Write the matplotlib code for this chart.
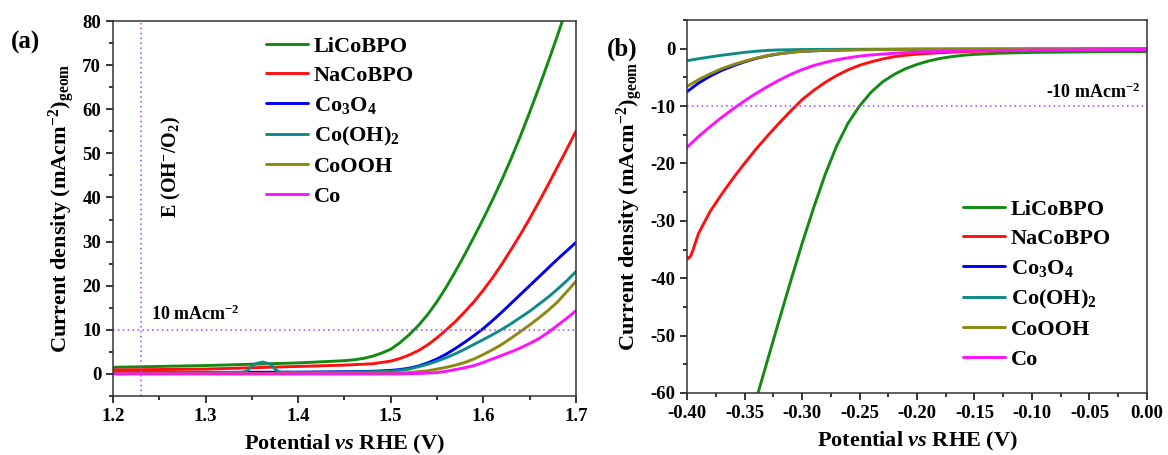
import numpy as np
import matplotlib.pyplot as plt
from matplotlib.ticker import MultipleLocator

plt.rcParams['font.family'] = 'Liberation Serif'
plt.rcParams['font.weight'] = 'bold'
plt.rcParams['axes.labelweight'] = 'bold'
plt.rcParams['axes.unicode_minus'] = False
plt.rcParams['mathtext.fontset'] = 'custom'
plt.rcParams['mathtext.rm'] = 'Liberation Serif:bold'
plt.rcParams['mathtext.it'] = 'Liberation Serif:bold:italic'
plt.rcParams['mathtext.bf'] = 'Liberation Serif:bold'
plt.rcParams['mathtext.default'] = 'rm'

names = ['LiCoBPO', 'NaCoBPO', r'Co$_3$O$_4$', r'Co(OH)$_2$', 'CoOOH', 'Co']
colors = ['#138a13', '#ff1010', '#0000f0', '#0e8a8a', '#8a8a10', '#ff10ff']

xticks_a = [1.2, 1.3, 1.4, 1.5, 1.6, 1.7]
yticks_a = [0, 10, 20, 30, 40, 50, 60, 70, 80]
xticks_b = [-0.40, -0.35, -0.30, -0.25, -0.20, -0.15, -0.10, -0.05, 0.00]
yticks_b = [-60, -50, -40, -30, -20, -10, 0]

# ---- OER (panel a) ----
oer_li_v = [1.20, 1.30, 1.40, 1.45, 1.46, 1.47, 1.48, 1.49, 1.50, 1.51, 1.52, 1.53, 1.54, 1.55,
            1.56, 1.57, 1.58, 1.59, 1.60, 1.61, 1.62, 1.63, 1.64, 1.65, 1.66, 1.67, 1.68, 1.69]
oer_li_j = [1.5, 1.9, 2.5, 3.0, 3.2, 3.5, 4.0, 4.7, 5.6, 7.1, 8.9, 11.0, 13.5, 16.4,
            19.7, 23.3, 27.1, 31.1, 35.2, 39.5, 44.0, 48.8, 53.9, 59.3, 64.9, 70.7, 76.7, 82.9]

oer_na_v = [1.20, 1.30, 1.40, 1.45, 1.48, 1.50, 1.51, 1.52, 1.53, 1.54, 1.55, 1.56, 1.57, 1.58,
            1.59, 1.60, 1.61, 1.62, 1.63, 1.64, 1.65, 1.66, 1.67, 1.68, 1.69, 1.70]
oer_na_j = [0.9, 1.1, 1.7, 2.0, 2.3, 2.9, 3.5, 4.3, 5.3, 6.6, 8.2, 10.0, 11.9, 14.1,
            16.4, 19.0, 21.8, 24.9, 28.2, 31.6, 35.2, 39.0, 42.9, 46.9, 50.9, 55.0]

oer_co3o4_v = [1.20, 1.30, 1.40, 1.45, 1.48, 1.50, 1.51, 1.52, 1.53, 1.54, 1.55, 1.56, 1.57, 1.58,
               1.59, 1.60, 1.61, 1.62, 1.63, 1.64, 1.65, 1.66, 1.67, 1.68, 1.69, 1.70]
oer_co3o4_j = [0.3, 0.35, 0.4, 0.5, 0.6, 0.8, 1.0, 1.3, 1.8, 2.5, 3.4, 4.5, 5.8, 7.2,
               8.7, 10.3, 12.1, 14.0, 16.0, 18.0, 20.0, 22.0, 24.0, 26.0, 27.9, 29.8]

oer_cooh2_v = [1.20, 1.30, 1.34, 1.345, 1.35, 1.355, 1.362, 1.37, 1.375, 1.38, 1.40, 1.45, 1.50,
               1.52, 1.54, 1.55, 1.56, 1.57, 1.58, 1.59, 1.60, 1.61, 1.62, 1.63, 1.64, 1.65,
               1.66, 1.67, 1.68, 1.69, 1.70]
oer_cooh2_j = [0.3, 0.3, 0.35, 0.7, 1.8, 2.4, 2.7, 2.2, 1.1, 0.4, 0.35, 0.4, 0.6,
               1.1, 2.2, 2.9, 3.7, 4.6, 5.6, 6.7, 7.8, 8.9, 10.1, 11.4, 12.8, 14.2,
               15.8, 17.4, 19.2, 21.1, 23.2]

oer_coooh_v = [1.20, 1.40, 1.50, 1.52, 1.54, 1.55, 1.56, 1.57, 1.58, 1.59, 1.60, 1.61, 1.62,
               1.63, 1.64, 1.65, 1.66, 1.67, 1.68, 1.69, 1.70]
oer_coooh_j = [0.1, 0.1, 0.15, 0.3, 0.7, 1.1, 1.5, 2.0, 2.6, 3.4, 4.4, 5.5, 6.7,
               8.1, 9.6, 11.1, 12.7, 14.4, 16.3, 18.6, 21.0]

oer_co_v = [1.20, 1.50, 1.53, 1.55, 1.56, 1.57, 1.58, 1.59, 1.60, 1.61, 1.62, 1.63, 1.64,
            1.65, 1.66, 1.67, 1.68, 1.69, 1.70]
oer_co_j = [0.0, 0.0, 0.1, 0.3, 0.6, 1.0, 1.4, 1.9, 2.6, 3.4, 4.2, 5.0, 5.9,
            6.9, 8.0, 9.4, 11.0, 12.6, 14.3]

# ---- HER (panel b) ----
her_li_v = [-0.34, -0.33, -0.32, -0.31, -0.30, -0.29, -0.28, -0.27, -0.26, -0.25, -0.24, -0.23,
            -0.22, -0.21, -0.20, -0.19, -0.18, -0.17, -0.16, -0.15, -0.13, -0.10, -0.05, 0.0]
her_li_j = [-61.2, -54.3, -47.4, -40.6, -34.0, -27.8, -22.0, -17.0, -13.0, -10.0, -7.6, -5.8,
            -4.5, -3.5, -2.75, -2.15, -1.7, -1.4, -1.15, -1.0, -0.8, -0.65, -0.55, -0.5]

her_na_v = [-0.40, -0.399, -0.397, -0.395, -0.39, -0.38, -0.37, -0.36, -0.35, -0.34, -0.33, -0.32,
            -0.31, -0.30, -0.29, -0.28, -0.27, -0.26, -0.25, -0.24, -0.23, -0.22, -0.21, -0.20,
            -0.18, -0.15, -0.10, -0.05, 0.0]
her_na_j = [-36.3, -36.6, -36.2, -35.2, -32.2, -28.4, -25.4, -22.6, -20.0, -17.5, -15.2, -13.0,
            -10.9, -8.9, -7.3, -5.9, -4.7, -3.7, -2.9, -2.3, -1.8, -1.4, -1.15, -0.95,
            -0.7, -0.45, -0.3, -0.25, -0.2]

her_co3o4_v = [-0.40, -0.39, -0.38, -0.37, -0.36, -0.35, -0.34, -0.33, -0.32, -0.31, -0.30,
               -0.28, -0.25, -0.20, 0.0]
her_co3o4_j = [-7.5, -6.0, -4.8, -3.8, -3.0, -2.3, -1.7, -1.25, -0.9, -0.65, -0.45,
               -0.3, -0.15, -0.1, -0.05]

her_cooh2_v = [-0.40, -0.39, -0.38, -0.37, -0.36, -0.35, -0.34, -0.33, -0.32, -0.30, -0.25, 0.0]
her_cooh2_j = [-2.1, -1.75, -1.45, -1.15, -0.9, -0.65, -0.45, -0.3, -0.22, -0.15, -0.1, -0.05]

her_coooh_v = [-0.40, -0.39, -0.38, -0.37, -0.36, -0.35, -0.34, -0.33, -0.32, -0.31, -0.30,
               -0.28, -0.25, -0.20, 0.0]
her_coooh_j = [-6.6, -5.4, -4.4, -3.5, -2.8, -2.2, -1.65, -1.2, -0.9, -0.65, -0.45,
               -0.3, -0.2, -0.12, -0.1]

her_co_v = [-0.40, -0.39, -0.38, -0.37, -0.36, -0.35, -0.34, -0.33, -0.32, -0.31, -0.30, -0.29,
            -0.28, -0.27, -0.26, -0.25, -0.24, -0.22, -0.20, -0.15, -0.10, 0.0]
her_co_j = [-17.2, -15.3, -13.6, -12.0, -10.5, -9.1, -7.8, -6.6, -5.5, -4.5, -3.65, -2.95,
            -2.4, -1.95, -1.6, -1.3, -1.1, -0.8, -0.6, -0.35, -0.25, -0.15]

oer = [(oer_li_v, oer_li_j), (oer_na_v, oer_na_j), (oer_co3o4_v, oer_co3o4_j),
       (oer_cooh2_v, oer_cooh2_j), (oer_coooh_v, oer_coooh_j), (oer_co_v, oer_co_j)]
her = [(her_li_v, her_li_j), (her_na_v, her_na_j), (her_co3o4_v, her_co3o4_j),
       (her_cooh2_v, her_cooh2_j), (her_coooh_v, her_coooh_j), (her_co_v, her_co_j)]

fig = plt.figure(figsize=(11.68, 4.55), dpi=100)
axa = fig.add_axes([0.0967, 0.1297, 0.3964, 0.8241])
axb = fig.add_axes([0.5882, 0.1363, 0.3938, 0.8198])

lw = 2.1
guide = dict(color='#a040ff', linestyle=(0, (1, 2.2)), linewidth=1.1)
tickfont = dict(fontsize=13.5, fontweight='bold')

for (v, j), c, n in zip(oer, colors, names):
    axa.plot(v, j, color=c, lw=lw, label=n, solid_capstyle='round')
axa.axhline(10, **guide)
axa.axvline(1.23, **guide)
axa.text(1.241, 12.2, r'10 mAcm$^{-2}$', fontsize=13)
axa.text(1.263, 47, r'E (OH$^{-}$/O$_2$)', rotation=90, fontsize=14.5, ha='center', va='center')
axa.set_xlim(1.2, 1.7)
axa.set_ylim(-5, 80)
axa.set_xticks(xticks_a, ['%.1f' % t for t in xticks_a], **tickfont)
axa.set_yticks(yticks_a, ['%d' % t for t in yticks_a], **tickfont)
axa.xaxis.set_minor_locator(MultipleLocator(0.05))
axa.yaxis.set_minor_locator(MultipleLocator(5))

for (v, j), c, n in zip(her, colors, names):
    axb.plot(v, j, color=c, lw=lw, label=n, solid_capstyle='round')
axb.axhline(-10, **guide)
axb.text(-0.006, -8.6, r'-10 mAcm$^{-2}$', fontsize=13, ha='right')
axb.set_xlim(-0.4, 0.0)
axb.set_ylim(-60, 5)
axb.set_xticks(xticks_b, ['%.2f' % t for t in xticks_b], **tickfont)
axb.set_yticks(yticks_b, ['%d' % t for t in yticks_b], **tickfont)
axb.xaxis.set_minor_locator(MultipleLocator(0.025))
axb.yaxis.set_minor_locator(MultipleLocator(5))

ylab = r'Current density (mAcm$^{-2}$)$_{\mathrm{geom}}$'
xlab = r'Potential $\mathit{vs}$ RHE (V)'
for ax in (axa, axb):
    ax.set_ylabel(ylab, fontsize=16, labelpad=4)
    ax.set_xlabel(xlab, fontsize=16, labelpad=6)
    ax.tick_params(which='both', direction='out', width=1.1)
    ax.tick_params(which='major', length=5)
    ax.tick_params(which='minor', length=3)
    for s in ax.spines.values():
        s.set_linewidth(1.1)
        s.set_color('#333333')

axa.legend(loc='upper left', bbox_to_anchor=(0.33, 0.96), frameon=False, fontsize=16,
           handlelength=1.9, handletextpad=0.25, labelspacing=0.4, borderpad=0, borderaxespad=0)
axb.legend(loc='upper left', bbox_to_anchor=(0.60, 0.52), frameon=False, fontsize=16,
           handlelength=1.9, handletextpad=0.25, labelspacing=0.4, borderpad=0, borderaxespad=0)

fig.text(0.009, 0.893, '(a)', fontsize=18, fontweight='bold')
fig.text(0.520, 0.878, '(b)', fontsize=18, fontweight='bold')

fig.savefig('out.png', dpi=100)
